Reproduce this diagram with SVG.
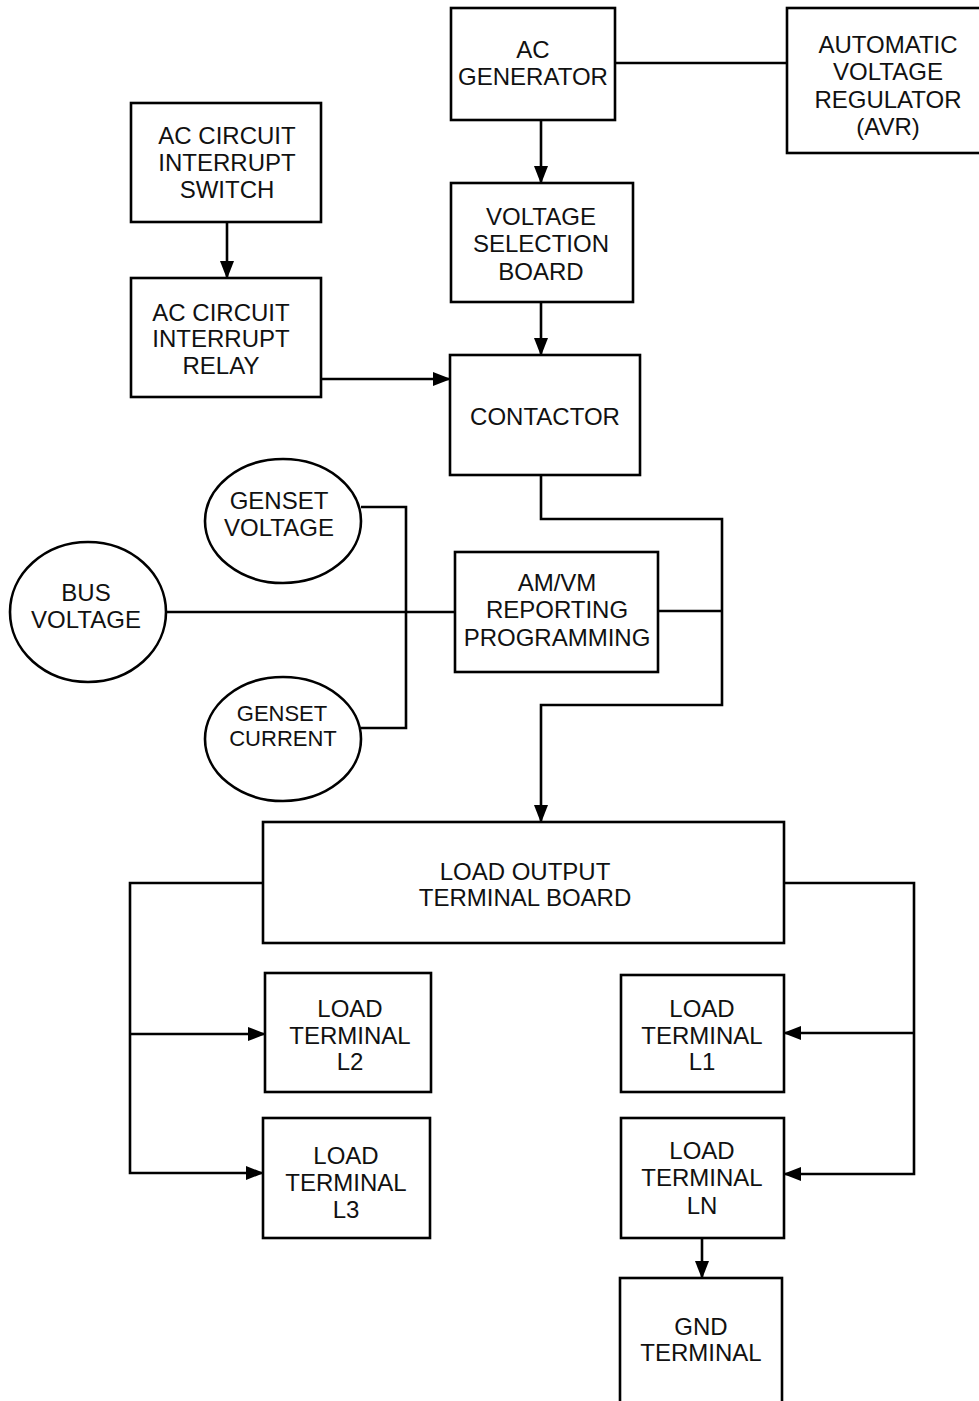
<svg xmlns="http://www.w3.org/2000/svg" width="979" height="1401" viewBox="0 0 979 1401">
<style>
.b{fill:#fff;stroke:#000;stroke-width:2.6}
.t{font-family:"Liberation Sans",Arial,sans-serif;font-size:24px;fill:#111;text-anchor:middle}
.s{font-size:22px}
.c{fill:none;stroke:#000;stroke-width:2.6}
</style>
<defs>
<marker id="ar" markerUnits="userSpaceOnUse" markerWidth="18" markerHeight="16" refX="17" refY="8" orient="auto" viewBox="0 0 18 16">
<path d="M0 1 L18 8 L0 15 Z" fill="#000"/>
</marker>
</defs>
<rect width="979" height="1401" fill="#fff"/>
<g id="connectors">
<path class="c" d="M615 63 H787"/>
<path class="c" d="M541 120 V183" marker-end="url(#ar)"/>
<path class="c" d="M541 302 V355" marker-end="url(#ar)"/>
<path class="c" d="M227 222 V278" marker-end="url(#ar)"/>
<path class="c" d="M321 379 H450" marker-end="url(#ar)"/>
<path class="c" d="M541 475 V519 H722 V705 H541 V822" marker-end="url(#ar)"/>
<path class="c" d="M658 611 H722"/>
<path class="c" d="M166 612 H455"/>
<path class="c" d="M361 507 H406 V728 H361"/>
<path class="c" d="M263 883 H130 V1173 H263" marker-end="url(#ar)"/>
<path class="c" d="M130 1034 H265" marker-end="url(#ar)"/>
<path class="c" d="M784 883 H914 V1174 H784" marker-end="url(#ar)"/>
<path class="c" d="M914 1033 H784" marker-end="url(#ar)"/>
<path class="c" d="M702 1238 V1278" marker-end="url(#ar)"/>
</g>
<g id="ac-generator">
<rect class="b" x="451" y="8" width="164" height="112"/>
<text class="t" x="533" y="58">AC</text>
<text class="t" x="533" y="85">GENERATOR</text>
</g>
<g id="avr">
<rect class="b" x="787" y="8" width="194" height="145"/>
<text class="t" x="888" y="53">AUTOMATIC</text>
<text class="t" x="888" y="80">VOLTAGE</text>
<text class="t" x="888" y="108">REGULATOR</text>
<text class="t" x="888" y="135">(AVR)</text>
</g>
<g id="voltage-selection-board">
<rect class="b" x="451" y="183" width="182" height="119"/>
<text class="t" x="541" y="225">VOLTAGE</text>
<text class="t" x="541" y="252">SELECTION</text>
<text class="t" x="541" y="280">BOARD</text>
</g>
<g id="contactor">
<rect class="b" x="450" y="355" width="190" height="120"/>
<text class="t" x="545" y="425">CONTACTOR</text>
</g>
<g id="interrupt-switch">
<rect class="b" x="131" y="103" width="190" height="119"/>
<text class="t" x="227" y="144">AC CIRCUIT</text>
<text class="t" x="227" y="171">INTERRUPT</text>
<text class="t" x="227" y="198">SWITCH</text>
</g>
<g id="interrupt-relay">
<rect class="b" x="131" y="278" width="190" height="119"/>
<text class="t" x="221" y="321">AC CIRCUIT</text>
<text class="t" x="221" y="347">INTERRUPT</text>
<text class="t" x="221" y="374">RELAY</text>
</g>
<g id="amvm">
<rect class="b" x="455" y="552" width="203" height="120"/>
<text class="t" x="557" y="591">AM/VM</text>
<text class="t" x="557" y="618">REPORTING</text>
<text class="t" x="557" y="646">PROGRAMMING</text>
</g>
<g id="bus-voltage">
<ellipse class="b" cx="88" cy="612" rx="78" ry="70"/>
<text class="t" x="86" y="601">BUS</text>
<text class="t" x="86" y="628">VOLTAGE</text>
</g>
<g id="genset-voltage">
<ellipse class="b" cx="283" cy="521" rx="78" ry="62"/>
<text class="t" x="279" y="509">GENSET</text>
<text class="t" x="279" y="536">VOLTAGE</text>
</g>
<g id="genset-current">
<ellipse class="b" cx="283" cy="739" rx="78" ry="62"/>
<text class="t s" x="282" y="721">GENSET</text>
<text class="t s" x="283" y="746">CURRENT</text>
</g>
<g id="load-output-terminal-board">
<rect class="b" x="263" y="822" width="521" height="121"/>
<text class="t" x="525" y="880">LOAD OUTPUT</text>
<text class="t" x="525" y="906">TERMINAL BOARD</text>
</g>
<g id="load-l2">
<rect class="b" x="265" y="973" width="166" height="119"/>
<text class="t" x="350" y="1017">LOAD</text>
<text class="t" x="350" y="1044">TERMINAL</text>
<text class="t" x="350" y="1070">L2</text>
</g>
<g id="load-l3">
<rect class="b" x="263" y="1118" width="167" height="120"/>
<text class="t" x="346" y="1164">LOAD</text>
<text class="t" x="346" y="1191">TERMINAL</text>
<text class="t" x="346" y="1218">L3</text>
</g>
<g id="load-l1">
<rect class="b" x="621" y="975" width="163" height="117"/>
<text class="t" x="702" y="1017">LOAD</text>
<text class="t" x="702" y="1044">TERMINAL</text>
<text class="t" x="702" y="1070">L1</text>
</g>
<g id="load-ln">
<rect class="b" x="621" y="1118" width="163" height="120"/>
<text class="t" x="702" y="1159">LOAD</text>
<text class="t" x="702" y="1186">TERMINAL</text>
<text class="t" x="702" y="1214">LN</text>
</g>
<g id="gnd-terminal">
<rect class="b" x="620" y="1278" width="162" height="130"/>
<text class="t" x="701" y="1335">GND</text>
<text class="t" x="701" y="1361">TERMINAL</text>
</g>
</svg>
